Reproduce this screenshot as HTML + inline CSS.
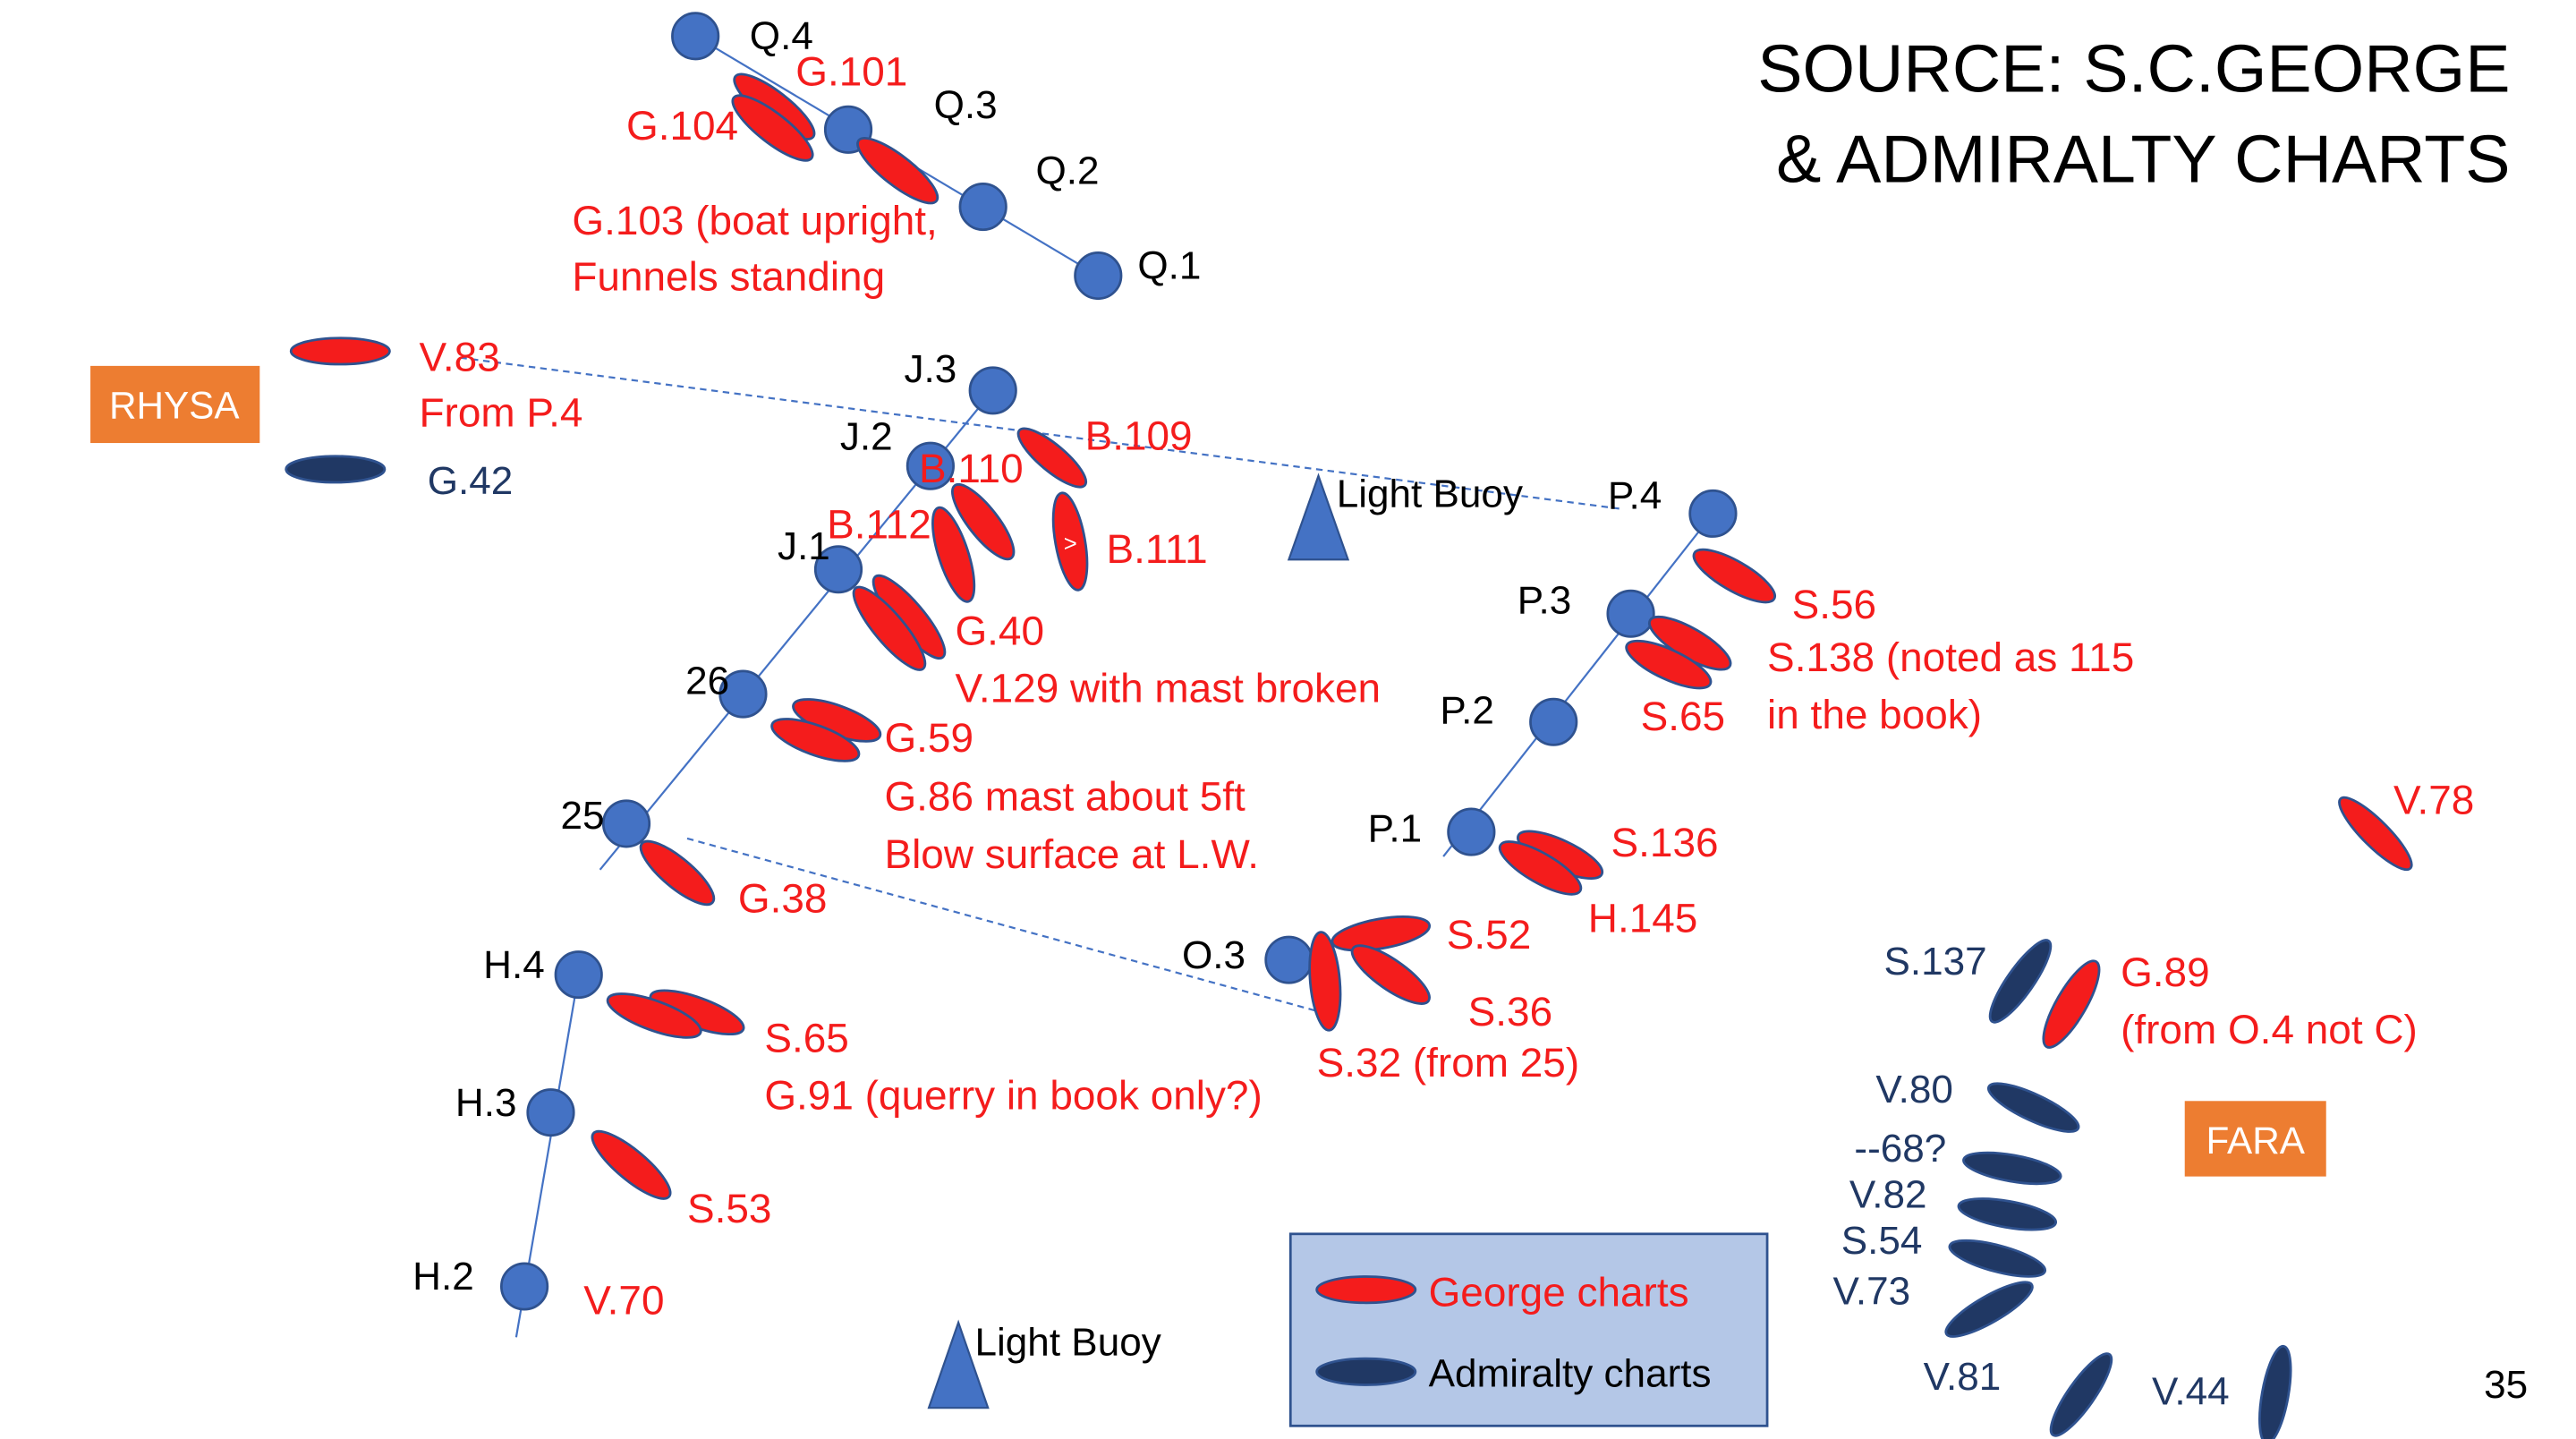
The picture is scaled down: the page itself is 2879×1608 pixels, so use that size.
<!DOCTYPE html>
<html><head><meta charset="utf-8"><style>
html,body{margin:0;padding:0;background:#fff;}
svg{display:block;}
text{font-family:"Liberation Sans",sans-serif;}
</style></head><body>
<svg width="2879" height="1608" viewBox="0 0 1567 877" preserveAspectRatio="none" xmlns="http://www.w3.org/2000/svg">
<g stroke="#4472C4" stroke-width="1.2" fill="none">
<line x1="423" y1="22" x2="668" y2="168"/>
<line x1="365" y1="530" x2="604" y2="238"/>
<line x1="878" y1="522" x2="1042" y2="313"/>
<line x1="352" y1="594" x2="314" y2="815"/>
<line x1="280" y1="218" x2="985" y2="310" stroke-dasharray="4,3"/>
<line x1="418" y1="511" x2="815" y2="620" stroke-dasharray="4,3"/>
</g>
<g fill="#4472C4" stroke="#2F528F" stroke-width="1.5">
<circle cx="423" cy="22" r="14"/><circle cx="516" cy="79" r="14"/><circle cx="598" cy="126" r="14"/><circle cx="668" cy="168" r="14"/>
<circle cx="604" cy="238" r="14"/><circle cx="566" cy="284" r="14"/><circle cx="510" cy="347" r="14"/><circle cx="452" cy="423" r="14"/><circle cx="381" cy="502" r="14"/>
<circle cx="1042" cy="313" r="14"/><circle cx="992" cy="374" r="14"/><circle cx="945" cy="440" r="14"/><circle cx="895" cy="507" r="14"/>
<circle cx="784" cy="585" r="14"/><circle cx="352" cy="594" r="14"/><circle cx="335" cy="678" r="14"/><circle cx="319" cy="784" r="14"/>
</g>
<g fill="#F41C1C" stroke="#2F528F" stroke-width="1.5">
<ellipse cx="0" cy="0" rx="30" ry="9" transform="translate(471,65) rotate(38)"/>
<ellipse cx="0" cy="0" rx="30" ry="9" transform="translate(470,78) rotate(38)"/>
<ellipse cx="0" cy="0" rx="30" ry="9" transform="translate(546,104) rotate(38)"/>
<ellipse cx="207" cy="214" rx="30" ry="8"/>
<ellipse cx="0" cy="0" rx="26" ry="8" transform="translate(640,279) rotate(40)"/>
<ellipse cx="0" cy="0" rx="28" ry="9" transform="translate(598,318) rotate(52)"/>
<ellipse cx="0" cy="0" rx="30" ry="9" transform="translate(580,338) rotate(72)"/>
<ellipse cx="0" cy="0" rx="30" ry="9" transform="translate(651,330) rotate(80)"/>
<ellipse cx="0" cy="0" rx="32" ry="9" transform="translate(553,376) rotate(50)"/>
<ellipse cx="0" cy="0" rx="32" ry="9" transform="translate(541,383) rotate(50)"/>
<ellipse cx="0" cy="0" rx="28" ry="9" transform="translate(509,439) rotate(20)"/>
<ellipse cx="0" cy="0" rx="28" ry="9" transform="translate(496,451) rotate(20)"/>
<ellipse cx="0" cy="0" rx="28" ry="9" transform="translate(412,532) rotate(40)"/>
<ellipse cx="0" cy="0" rx="28" ry="9" transform="translate(1055,351) rotate(30)"/>
<ellipse cx="0" cy="0" rx="28" ry="9" transform="translate(1028,392) rotate(30)"/>
<ellipse cx="0" cy="0" rx="28" ry="9" transform="translate(1015,405) rotate(25)"/>
<ellipse cx="0" cy="0" rx="28" ry="9" transform="translate(949,521) rotate(25)"/>
<ellipse cx="0" cy="0" rx="28" ry="9" transform="translate(937,529) rotate(30)"/>
<ellipse cx="0" cy="0" rx="30" ry="9" transform="translate(840,569) rotate(-10)"/>
<ellipse cx="0" cy="0" rx="28" ry="9" transform="translate(846,594) rotate(35)"/>
<ellipse cx="0" cy="0" rx="30" ry="9" transform="translate(806,598) rotate(85)"/>
<ellipse cx="0" cy="0" rx="30" ry="9" transform="translate(424,617) rotate(20)"/>
<ellipse cx="0" cy="0" rx="30" ry="9" transform="translate(398,619) rotate(20)"/>
<ellipse cx="0" cy="0" rx="30" ry="9" transform="translate(384,710) rotate(40)"/>
<ellipse cx="0" cy="0" rx="30" ry="8" transform="translate(1445,508) rotate(45)"/>
<ellipse cx="0" cy="0" rx="30" ry="9" transform="translate(1260,612) rotate(-60)"/>
</g>
<g fill="#203864" stroke="#2F528F" stroke-width="1.5">
<ellipse cx="204" cy="286" rx="30" ry="8"/>
<ellipse cx="0" cy="0" rx="30" ry="8" transform="translate(1229,598) rotate(-55)"/>
<ellipse cx="0" cy="0" rx="30" ry="8" transform="translate(1237,675) rotate(25)"/>
<ellipse cx="0" cy="0" rx="30" ry="8" transform="translate(1224,712) rotate(10)"/>
<ellipse cx="0" cy="0" rx="30" ry="8" transform="translate(1221,740) rotate(10)"/>
<ellipse cx="0" cy="0" rx="30" ry="8" transform="translate(1215,767) rotate(15)"/>
<ellipse cx="0" cy="0" rx="30" ry="8" transform="translate(1210,798) rotate(-30)"/>
<ellipse cx="0" cy="0" rx="30" ry="8" transform="translate(1266,850) rotate(-55)"/>
<ellipse cx="0" cy="0" rx="30" ry="8" transform="translate(1384,850) rotate(-80)"/>
</g>
<text x="647" y="336" font-size="14" fill="#fff">&gt;</text>
<g fill="#4472C4" stroke="#2F528F" stroke-width="1.2">
<polygon points="802,290 784,341 820,341"/>
<polygon points="583,806 565,858 601,858"/>
</g>
<rect x="785" y="752" width="290" height="117" fill="#B4C7E7" stroke="#2F528F" stroke-width="1.5"/>
<ellipse cx="831" cy="786" rx="30" ry="8" fill="#F41C1C" stroke="#2F528F" stroke-width="1.5"/>
<ellipse cx="831" cy="836" rx="30" ry="8" fill="#203864" stroke="#2F528F" stroke-width="1.5"/>
<rect x="55" y="223" width="103" height="47" fill="#ED7D31"/>
<text x="106" y="255" font-size="23" fill="#fff" text-anchor="middle">RHYSA</text>
<rect x="1329" y="671" width="86" height="46" fill="#ED7D31"/>
<text x="1372" y="703" font-size="23" fill="#fff" text-anchor="middle">FARA</text>
<g font-size="41" fill="#000" text-anchor="end">
<text x="1527" y="56">SOURCE: S.C.GEORGE</text>
<text x="1527" y="111">&amp; ADMIRALTY CHARTS</text>
</g>
<g font-size="24" fill="#000">
<text x="456" y="30">Q.4</text><text x="568" y="72">Q.3</text><text x="630" y="112">Q.2</text><text x="692" y="170">Q.1</text>
<text x="550" y="233">J.3</text><text x="511" y="274">J.2</text><text x="473" y="341">J.1</text><text x="417" y="423">26</text><text x="341" y="505">25</text>
<text x="978" y="310">P.4</text><text x="923" y="374">P.3</text><text x="876" y="441">P.2</text><text x="832" y="513">P.1</text>
<text x="719" y="590">O.3</text><text x="294" y="596">H.4</text><text x="277" y="680">H.3</text><text x="251" y="786">H.2</text>
<text x="813" y="309">Light Buoy</text><text x="593" y="826">Light Buoy</text>
<text x="869" y="845">Admiralty charts</text>
<text x="1511" y="852">35</text>
</g>
<g font-size="24" fill="#203864">
<text x="260" y="301">G.42</text>
<text x="1146" y="594">S.137</text><text x="1141" y="672">V.80</text><text x="1128" y="708">--68?</text>
<text x="1125" y="736">V.82</text><text x="1120" y="764">S.54</text><text x="1115" y="795">V.73</text>
<text x="1170" y="847">V.81</text><text x="1309" y="856">V.44</text>
</g>
<g font-size="25" fill="#F41C1C">
<text x="484" y="52">G.101</text><text x="381" y="85">G.104</text>
<text x="348" y="143">G.103 (boat upright,</text><text x="348" y="177">Funnels standing</text>
<text x="255" y="226">V.83</text><text x="255" y="260">From P.4</text>
<text x="660" y="274">B.109</text><text x="559" y="294">B.110</text><text x="503" y="328">B.112</text><text x="673" y="343">B.111</text>
<text x="581" y="393">G.40</text><text x="581" y="428">V.129 with mast broken</text>
<text x="538" y="458">G.59</text><text x="538" y="494">G.86 mast about 5ft</text><text x="538" y="529">Blow surface at L.W.</text>
<text x="449" y="556">G.38</text>
<text x="1090" y="377">S.56</text><text x="1075" y="409">S.138 (noted as 115</text><text x="1075" y="444">in the book)</text><text x="998" y="445">S.65</text>
<text x="1456" y="496">V.78</text><text x="980" y="522">S.136</text><text x="966" y="568">H.145</text>
<text x="880" y="578">S.52</text><text x="893" y="625">S.36</text><text x="801" y="656">S.32 (from 25)</text>
<text x="465" y="641">S.65</text><text x="465" y="676">G.91 (querry in book only?)</text>
<text x="418" y="745">S.53</text><text x="355" y="801">V.70</text>
<text x="1290" y="601">G.89</text><text x="1290" y="636">(from O.4 not C)</text>
<text x="869" y="796">George charts</text>
</g>
</svg>
</body></html>
